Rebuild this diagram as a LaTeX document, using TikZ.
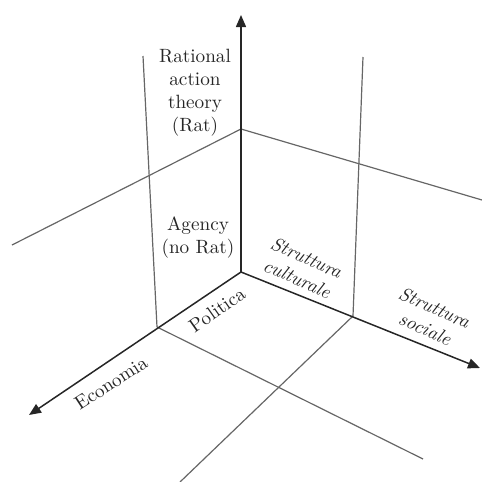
\documentclass[tikz,border=0pt]{standalone}
\usetikzlibrary{arrows.meta}
\begin{document}
\begin{tikzpicture}[x=0.5pt,y=-0.5pt,
  axis/.style={line width=0.75pt,draw=black!85,-{Triangle[length=6pt,width=5pt]}},
  frame/.style={line width=0.6pt,draw=black!60},
  lbl/.style={align=center,inner sep=0pt,font=\fontsize{9.6}{11.5}\selectfont,text=black!85}]
\useasboundingbox (0,0) rectangle (482,482);
% corner points of the three planes
\coordinate (O) at (241,272);
\coordinate (A) at (241,129);
\coordinate (P) at (157,327);
\coordinate (Q) at (353,316);
% free ends
\coordinate (Ztop) at (241,15);
\coordinate (Eend) at (29,415);
\coordinate (Send) at (480,368);
\coordinate (Lt) at (143,56);
\coordinate (Rt) at (363,57);
\coordinate (Al) at (12,245);
\coordinate (Ar) at (482,200);
\coordinate (Pend) at (423,459);
\coordinate (Qend) at (180,482);
% thin frame lines
\draw[frame] (Lt) -- (P);
\draw[frame] (Rt) -- (Q);
\draw[frame] (Al) -- (A) -- (Ar);
\draw[frame] (P) -- (Pend);
\draw[frame] (Q) -- (Qend);
% axes
\draw[axis] (O) -- (Ztop);
\draw[axis] (O) -- (Eend);
\draw[axis] (O) -- (Send);
% labels
\node[lbl] (rat) at (195,93) {Rational\\action\\theory\\(Rat)};
\node[lbl] (agency) at (198,238) {Agency\\(no Rat)};
\node[lbl,rotate=-24] (cult) at (302,268) {\textit{Struttura}\\\textit{culturale}};
\node[lbl,rotate=-24] (soc) at (430,318) {\textit{Struttura}\\\textit{sociale}};
\node[lbl,rotate=35] (pol) at (217,310) {Politica};
\node[lbl,rotate=33] (eco) at (111,383) {Economia};
\end{tikzpicture}
\end{document}
